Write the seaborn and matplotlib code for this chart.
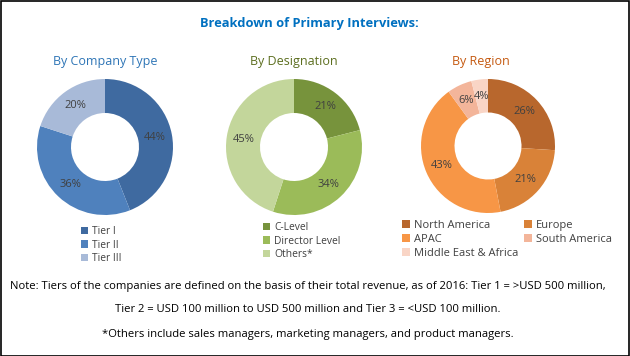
import matplotlib
matplotlib.use("Agg")
import matplotlib.pyplot as plt
import seaborn as sns
from matplotlib.patches import Rectangle, Patch

sns.set_theme(style="white")
plt.rcParams['font.family'] = ['Open Sans', 'DejaVu Sans']

W, H = 630, 356

company_labels = ["Tier I", "Tier II", "Tier III"]
company_values = [44, 36, 20]
company_colors = ["#3F6AA0", "#4F81BD", "#A8BAD8"]

designation_labels = ["C-Level", "Director Level", "Others*"]
designation_values = [21, 34, 45]
designation_colors = ["#77933C", "#9BBB59", "#C3D69B"]

region_labels = ["North America", "Europe", "APAC", "South America", "Middle East & Africa"]
region_values = [26, 21, 43, 6, 4]
region_colors = ["#B8672D", "#D98238", "#F79646", "#F3B59A", "#F9D5C6"]

fig = plt.figure(figsize=(W / 100, H / 100), dpi=100)
fig.patch.set_facecolor("white")


def px_axes(cx, cy, r):
    return fig.add_axes([(cx - r) / W, 1 - (cy + r) / H, 2 * r / W, 2 * r / H])


def donut(ax, values, colors):
    wedges, texts, autotexts = ax.pie(
        values, colors=colors, startangle=90, counterclock=False,
        autopct=lambda p: f"{p:.0f}%", pctdistance=0.75,
        wedgeprops=dict(width=0.5, edgecolor="none"),
        textprops=dict(color="#404040", fontsize=8))
    ax.set_xlim(-1, 1)
    ax.set_ylim(-1, 1)
    ax.set_aspect("equal")
    ax.axis("off")
    return wedges


ax1 = px_axes(105, 147, 68)
donut(ax1, company_values, company_colors)
ax2 = px_axes(294, 147, 68)
donut(ax2, designation_values, designation_colors)
ax3 = px_axes(488, 146, 67)
donut(ax3, region_values, region_colors)

# Titles
fig.text(309 / W, 1 - 24 / H, "Breakdown of Primary Interviews:", ha="center", va="center",
         fontsize=9.3, fontweight="bold", color="#0070C0")
fig.text(105 / W, 1 - 62 / H, "By Company Type", ha="center", va="center", fontsize=9, color="#2E75B6")
fig.text(294 / W, 1 - 62 / H, "By Designation", ha="center", va="center", fontsize=9, color="#5C6E1F")
fig.text(481 / W, 1 - 62 / H, "By Region", ha="center", va="center", fontsize=9, color="#C55A11")


def make_legend(labels, colors, x, y, ncol=1, colspacing=1.0, fontsize=7.4):
    handles = [Patch(facecolor=c, edgecolor="none") for c in colors]
    if ncol > 1:
        # matplotlib fills legends column by column; reorder so items read row by row
        nrows = -(-len(labels) // ncol)
        order = [r * ncol + c for c in range(ncol) for r in range(nrows) if r * ncol + c < len(labels)]
        handles = [handles[i] for i in order]
        labels = [labels[i] for i in order]
    leg = fig.legend(handles, labels, loc="upper left",
                     bbox_to_anchor=(x / W, 1 - y / H), bbox_transform=fig.transFigure,
                     ncol=ncol, frameon=False, fontsize=fontsize, handlelength=0.7, handleheight=0.7,
                     handletextpad=0.4, labelspacing=0.25, columnspacing=colspacing,
                     borderaxespad=0, borderpad=0)
    for t in leg.get_texts():
        t.set_color("#404040")
    return leg


make_legend(company_labels, company_colors, 81, 226)
make_legend(designation_labels, designation_colors, 263, 222)
make_legend(region_labels, region_colors, 402, 220, ncol=2, colspacing=0.5, fontsize=8)

notes = [
    "Note: Tiers of the companies are defined on the basis of their total revenue, as of 2016: Tier 1 = >USD 500 million,",
    "Tier 2 = USD 100 million to USD 500 million and Tier 3 = <USD 100 million.",
    "*Others include sales managers, marketing managers, and product managers.",
]
for txt, yy in zip(notes, [286, 310, 334]):
    fig.text(308 / W, 1 - yy / H, txt, ha="center", va="center", fontsize=8.1, color="#000000")

fig.patches.append(Rectangle((0.5 / W, 0.5 / H), 1 - 1.5 / W, 1 - 1.5 / H, transform=fig.transFigure,
                             fill=False, edgecolor="black", linewidth=1.2))

fig.savefig("out.png", dpi=100)
